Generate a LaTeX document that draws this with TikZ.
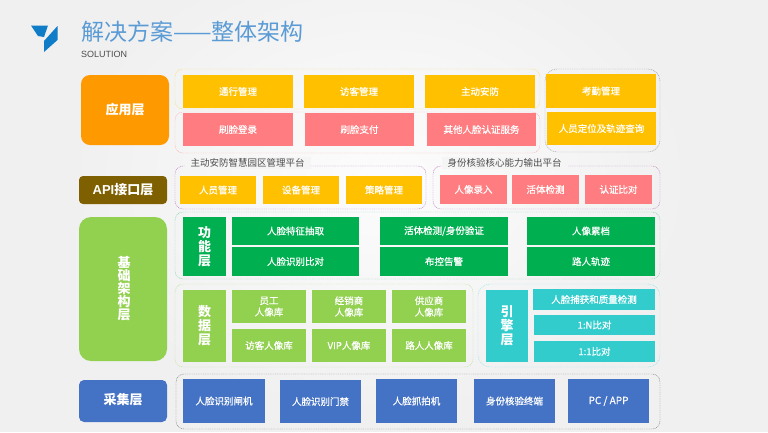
\documentclass[tikz,border=0pt]{standalone}
\usepackage{fontspec}
\setmainfont{Noto Sans CJK SC}
\newfontfamily\latinf{Liberation Sans}
\newfontfamily\medf[FakeBold=0.6]{Noto Sans CJK SC}
\definecolor{cyel}{HTML}{FFC000}
\definecolor{cpink}{HTML}{FF7C80}
\definecolor{cgreen}{HTML}{00B050}
\definecolor{clime}{HTML}{92D050}
\definecolor{cteal}{HTML}{33CCCC}
\definecolor{cblue}{HTML}{4472C4}
\definecolor{corange}{HTML}{FF9900}
\definecolor{cbrown}{HTML}{7F6000}
\definecolor{ctitle}{HTML}{5B9BD5}
\definecolor{clogo}{HTML}{0F7CC8}
\tikzset{
 x=1pt,y=-1pt,
 cell/.style={inner sep=0pt,text=white,align=center,font=\medf\fontsize{9.5}{11.5}\selectfont},
 side/.style={inner sep=0pt,text=white,align=center,font=\fontsize{13}{14}\bfseries\selectfont},
 layer/.style={inner sep=0pt,text=white,align=center,font=\fontsize{13}{13}\bfseries\selectfont},
 frame/.style={dashed,dash pattern=on 1pt off 0.8pt,line width=0.45pt,rounded corners=8pt},
 captext/.style={inner ysep=2pt,inner xsep=6pt,fill=white!96!black,text=black!70,font=\fontsize{9.5}{11}\selectfont},
}
\newcommand{\bx}[7][cell]{\fill[#3] (#4) rectangle (#5);\path (#4) -- (#5) node[midway,#1] (#2) {#6#7};}
\begin{document}
\begin{tikzpicture}
\useasboundingbox (0,0) rectangle (768,432);
\fill[white!94!black] (0,0) rectangle (768,432);
\shade[inner color=white!99!black,outer color=white!94!black] (60,-60) rectangle (700,420);
% logo
\fill[clogo] (31,25.5) -- (48,25.5) -- (44,37) -- (38,36) -- cycle;
\fill[clogo] (44,52) -- (44,41) -- (57.5,26) -- (57.5,40) -- cycle;
% title
\node[anchor=west,inner sep=0pt,text=ctitle,font=\fontsize{23}{25}\selectfont] (title) at (81,32) {解决方案——整体架构};
\node[anchor=west,inner sep=0pt,text=black!70,font=\fontsize{9}{10}\latinf] (sub) at (81,54.5) {SOLUTION};
% left layers
\fill[corange,rounded corners=9pt] (81,75) rectangle (169,145);
\node[layer] (lapp) at (125,110) {应用层};
\fill[cbrown,rounded corners=4pt] (79,176) rectangle (167,204);
\node[layer] (lapi) at (123,190) {{\latinf\bfseries API}接口层};
\fill[clime,rounded corners=12pt] (79,217) rectangle (167,361);
\node[layer] (lbase) at (124,289) {基\\础\\架\\构\\层};
\fill[cblue,rounded corners=5pt] (79,380) rectangle (167,422);
\node[layer] (lcol) at (123,400) {采集层};
% frames
\draw[frame,draw=yellow!60!orange!60] (175,69) rectangle (540,109);
\draw[frame,draw=cpink!60] (175,112) rectangle (540,153);
\draw[frame,draw=black!35,rounded corners=12pt] (545,69) rectangle (660,152);
\draw[frame,draw=violet!50] (175,166) rectangle (426,209);
\draw[frame,draw=violet!50] (433,166) rectangle (660,209);
\draw[frame,draw=cgreen!50] (175,212) rectangle (660,279);
\draw[frame,draw=clime!60] (175,284) rectangle (473,367);
\draw[frame,draw=cteal!50,rounded corners=12pt] (478,284) rectangle (660,367);
\draw[frame,draw=black!50] (176,374) rectangle (660,429);
% captions
\node[captext] (cap1) at (247.5,163) {主动安防智慧园区管理平台};
\node[captext] (cap2) at (504.5,163) {身份核验核心能力输出平台};
% application
\bx{a1}{cyel}{183,75}{293,108}{}{通行管理}
\bx{a2}{cyel}{304,75}{414,108}{}{访客管理}
\bx{a3}{cyel}{425,75}{535,108}{}{主动安防}
\bx{a4}{cpink}{183,113}{293,146}{}{刷脸登录}
\bx{a5}{cpink}{305,113}{414,146}{}{刷脸支付}
\bx{a6}{cpink}{427,113}{536,146}{}{其他人脸认证服务}
\bx{a7}{cyel}{546,74}{656,108}{}{考勤管理}
\bx{a8}{cyel}{547,112}{656,145}{}{人员定位及轨迹查询}
% api
\bx{b1}{cyel}{180,176}{256,204}{}{人员管理}
\bx{b2}{cyel}{263,176}{339,204}{}{设备管理}
\bx{b3}{cyel}{346,176}{422,204}{}{策略管理}
\bx{b4}{cpink}{440,175}{507,204}{}{人像录入}
\bx{b5}{cpink}{512,175}{579,204}{}{活体检测}
\bx{b6}{cpink}{585,175}{652,204}{}{认证比对}
% function
\bx[side]{c0}{cgreen}{183,217}{226,276}{}{功\\能\\层}
\bx{c1}{cgreen}{232,217}{359,245}{}{人脸特征抽取}
\bx{c2}{cgreen}{232,247}{359,276}{}{人脸识别比对}
\bx{c3}{cgreen}{380,217}{508,245}{}{活体检测/身份验证}
\bx{c4}{cgreen}{380,247}{508,276}{}{布控告警}
\bx{c5}{cgreen}{527,217}{655,245}{}{人像累档}
\bx{c6}{cgreen}{527,247}{655,276}{}{路人轨迹}
% data
\bx[side]{d0}{clime}{183,290}{226,362}{}{数\\据\\层}
\bx{d1}{clime}{232,290}{306,323}{}{员工\\人像库}
\bx{d2}{clime}{312,290}{386,323}{}{经销商\\人像库}
\bx{d3}{clime}{392,290}{466,323}{}{供应商\\人像库}
\bx{d4}{clime}{232,329}{306,362}{}{访客人像库}
\bx{d5}{clime}{312,329}{386,362}{}{VIP人像库}
\bx{d6}{clime}{392,329}{466,362}{}{路人人像库}
% engine
\bx[side]{e0}{cteal}{486,290}{528,362}{}{引\\擎\\层}
\bx{e1}{cteal}{533,289}{655,310}{}{人脸捕获和质量检测}
\bx{e2}{cteal}{534,315}{655,335}{}{1:N比对}
\bx{e3}{cteal}{534,341}{655,362}{}{1:1比对}
% collect
\bx{f1}{cblue}{183,379}{265,423}{}{人脸识别闸机}
\bx{f2}{cblue}{280,380}{361,423}{}{人脸识别门禁}
\bx{f3}{cblue}{376,379}{457,423}{}{人脸抓拍机}
\bx{f4}{cblue}{474,379}{555,423}{}{身份核验终端}
\bx{f5}{cblue}{568,379}{649,423}{}{\fontsize{10}{12}\selectfont PC / APP}
\end{tikzpicture}
\end{document}
